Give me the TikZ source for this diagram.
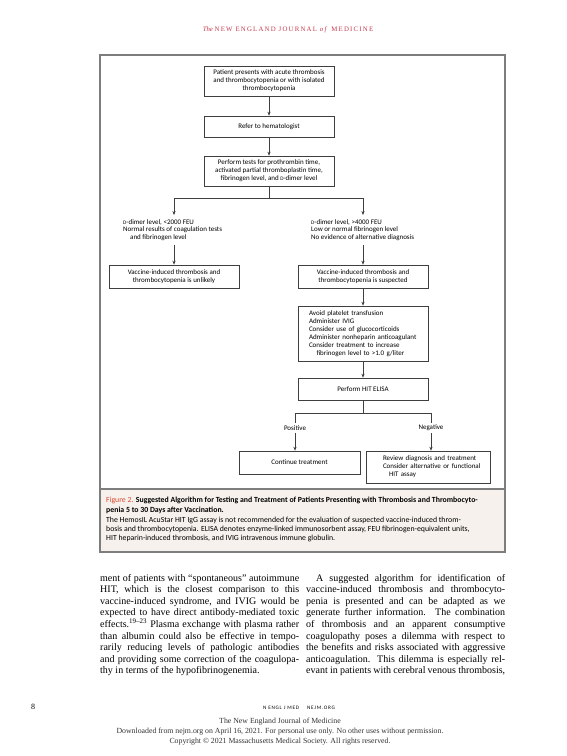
\documentclass[tikz,border=0pt]{standalone}
\usepackage{fontspec}
\setmainfont{Liberation Serif}
\newfontfamily\sansf{Carlito}
\newfontfamily\hdrfont[LetterSpace=18]{Liberation Serif}
\newfontfamily\ftrsans[LetterSpace=14]{Carlito}
\usetikzlibrary{arrows.meta}
\definecolor{nejmred}{HTML}{C8384A}
\definecolor{figred}{HTML}{D9472B}
\definecolor{capbg}{HTML}{F6F1EC}
\definecolor{framegray}{HTML}{7D7D7D}
\definecolor{boxgray}{HTML}{3F3F3F}
\definecolor{stampgray}{HTML}{333333}
\newcommand\jl[1]{\hbox to 199pt{#1}}
\newcommand\dd{{\fontsize{5.3}{6}\selectfont D}}
\begin{document}
\begin{tikzpicture}[x=1pt,y=-1pt,
  fl/.style={font=\sansf\fontsize{7}{7.9}\selectfont},
  fbox/.style={fl, draw=boxgray, line width=0.55pt, align=center, inner sep=0pt},
  ftxt/.style={fl, align=left, inner xsep=0pt, inner ysep=4pt},
  arr/.style={draw=boxgray, line width=0.55pt, -{Stealth[length=4pt,width=3.2pt]}},
  ln/.style={draw=boxgray, line width=0.55pt},
  capt/.style={anchor=base west, inner sep=0pt, font=\sansf\fontsize{7.8}{9}\selectfont},
  stamp/.style={anchor=base, inner sep=0pt, text=stampgray, font=\fontsize{7.8}{9}\selectfont}]
\useasboundingbox (0,0) rectangle (567,756);
\fill[white] (0,0) rectangle (567,756);

% header
\node[anchor=base, inner sep=0pt, text=nejmred] (hdr) at (288,31)
  {\fontsize{6.8}{8}\selectfont\textit{The} \hdrfont NEW ENGLAND JOURNAL \textit{of} MEDICINE};

% figure frame
\fill[capbg] (100,489) rectangle (505,552);
\draw[framegray, line width=1.4pt] (100,55) rectangle (505,552);
\draw[framegray, line width=1.3pt] (100,489) -- (505,489);

% flowchart
\node[fbox, minimum width=130pt, minimum height=30pt] (b1) at (269,81)
  {Patient presents with acute thrombosis\\and thrombocytopenia or with isolated\\thrombocytopenia};
\node[fbox, minimum width=130pt, minimum height=21pt] (b2) at (269,126.5) {Refer to hematologist};
\node[fbox, minimum width=130pt, minimum height=30pt] (b3) at (269,171)
  {Perform tests for prothrombin time,\\activated partial thromboplastin time,\\fibrinogen level, and \dd-dimer level};
\coordinate (j0) at (269,198);
\coordinate (jl) at (174,198);
\coordinate (jr) at (363,198);
\node[ftxt, anchor=north west] (tl) at (123,215)
  {\dd-dimer level, <2000 FEU\\Normal results of coagulation tests\\\hspace*{7pt}and fibrinogen level};
\node[ftxt, anchor=north west] (tr) at (311,215)
  {\dd-dimer level, >4000 FEU\\Low or normal fibrinogen level\\No evidence of alternative diagnosis};
\node[fbox, minimum width=130pt, minimum height=23pt] (lb) at (174,276.5)
  {Vaccine-induced thrombosis and\\thrombocytopenia is unlikely};
\node[fbox, minimum width=130pt, minimum height=23pt] (rb) at (363,276.5)
  {Vaccine-induced thrombosis and\\thrombocytopenia is suspected};
\node[fbox, align=left, text width=119pt, inner xsep=5.5pt, minimum height=55pt] (mb) at (363,333.5)
  {\hspace*{5.5pt}Avoid platelet transfusion\\\hspace*{5.5pt}Administer IVIG\\\hspace*{5.5pt}Consider use of glucocorticoids\\\hspace*{5.5pt}Administer nonheparin anticoagulant\\\hspace*{5.5pt}Consider treatment to increase\\\hspace*{13pt}fibrinogen level to >1.0 g/liter};
\node[fbox, minimum width=130pt, minimum height=22pt] (eb) at (363,389) {Perform HIT ELISA};
\coordinate (k0) at (363,413);
\coordinate (kl) at (295,413);
\coordinate (kr) at (431,413);
\node[fl, inner sep=2pt] (pos) at (295,428) {Positive};
\node[fl, inner sep=2pt] (neg) at (431,428) {Negative};
\node[fbox, minimum width=121pt, minimum height=23pt] (cb) at (299.5,462.5) {Continue treatment};
\node[fbox, align=left, text width=116pt, inner xsep=4pt, minimum height=32pt] (vb) at (428,467)
  {\hspace*{13pt}Review diagnosis and treatment\\\hspace*{13pt}Consider alternative or functional\\\hspace*{19pt}HIT assay};

\draw[arr] (b1) -- (b2);
\draw[arr] (b2) -- (b3);
\draw[ln] (b3.south) -- (j0);
\draw[ln] (jl) -- (jr);
\draw[arr] (jl) -- (jl |- tl.north);
\draw[arr] (jl |- tl.south) -- (lb);
\draw[arr] (jr) -- (jr |- tr.north);
\draw[arr] (jr |- tr.south) -- (rb);
\draw[arr] (rb) -- (mb);
\draw[arr] (mb) -- (eb);
\draw[ln] (eb.south) -- (k0);
\draw[ln] (kl) -- (kr);
\draw[ln] (kl) -- (pos.north);
\draw[ln] (kr) -- (neg.north);
\draw[arr] (pos.south) -- (pos.south |- cb.north);
\draw[arr] (neg.south) -- (neg.south |- vb.north);

% caption
\node[capt] (c1) at (106,502.5) {{\color{figred}Figure 2.} \textbf{Suggested Algorithm for Testing and Treatment of Patients Presenting with Thrombosis and Thrombocyto-}};
\node[capt] (c2) at (106,512.5) {\textbf{penia 5 to 30 Days after Vaccination.}};
\node[capt] (c3) at (106,522.5) {The HemosIL AcuStar HIT IgG assay is not recommended for the evaluation of suspected vaccine-induced throm-};
\node[capt] (c4) at (106,531.5) {bosis and thrombocytopenia. ELISA denotes enzyme-linked immunosorbent assay, FEU fibrinogen-equivalent units,};
\node[capt] (c5) at (106,540.5) {HIT heparin-induced thrombosis, and IVIG intravenous immune globulin.};

% body text
\node[anchor=base west, inner sep=0pt] (colL) at (100,581) {\fontsize{10}{11.6}\selectfont\vtop{\baselineskip=11.6pt
  \jl{ment of patients with “spontaneous” autoimmune}
  \jl{HIT, which is the closest comparison to this}
  \jl{vaccine-induced syndrome, and IVIG would be}
  \jl{expected to have direct antibody-mediated toxic}
  \jl{effects.\textsuperscript{19–23} Plasma exchange with plasma rather}
  \jl{than albumin could also be effective in tempo-}
  \jl{rarily reducing levels of pathologic antibodies}
  \jl{and providing some correction of the coagulopa-}
  \hbox{thy in terms of the hypofibrinogenemia.}}};
\node[anchor=base west, inner sep=0pt] (colR) at (306,581) {\fontsize{10}{11.6}\selectfont\vtop{\baselineskip=11.6pt
  \jl{\hskip 10pt A suggested algorithm for identification of}
  \jl{vaccine-induced thrombosis and thrombocyto-}
  \jl{penia is presented and can be adapted as we}
  \jl{generate further information. The combination}
  \jl{of thrombosis and an apparent consumptive}
  \jl{coagulopathy poses a dilemma with respect to}
  \jl{the benefits and risks associated with aggressive}
  \jl{anticoagulation. This dilemma is especially rel-}
  \jl{evant in patients with cerebral venous thrombosis,}}};

% footer
\node[anchor=base, inner sep=0pt, font=\fontsize{8}{9}\selectfont] (pg) at (33,709) {8};
\node[anchor=base, inner sep=0pt, font=\ftrsans\fontsize{5.2}{6}\selectfont] (ft) at (299,709) {N ENGL J MED\hspace{8pt}NEJM.ORG};
\node[stamp] (d1) at (280,723.5) {The New England Journal of Medicine};
\node[stamp] (d2) at (280,733.5) {Downloaded from nejm.org on April 16, 2021. For personal use only. No other uses without permission.};
\node[stamp] (d3) at (280,743.5) {Copyright © 2021 Massachusetts Medical Society. All rights reserved.};
\end{tikzpicture}
\end{document}
